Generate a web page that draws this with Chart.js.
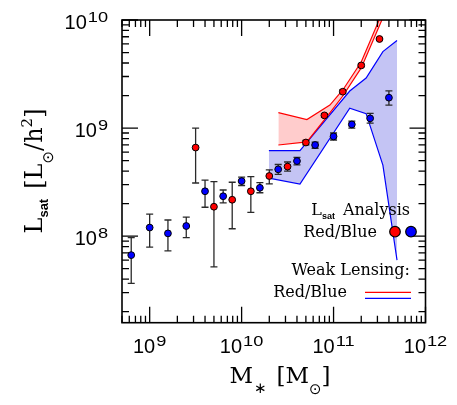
<!DOCTYPE html>
<html>
<head>
<meta charset="utf-8">
<script src="https://cdn.jsdelivr.net/npm/chart.js@4.4.1/dist/chart.umd.min.js"></script>
<style>
  html, body { margin: 0; padding: 0; background: #fff; }
  canvas { display: block; }
</style>
</head>
<body>
<canvas id="grafico" width="457" height="405"></canvas>
<script>
// Lsat analysis, red galaxies: stellar mass [Msun], Lsat and error bar ends [Lsun/h^2]
const redMass = [3.16e9, 5.0e9, 7.9e9, 1.26e10, 2.0e10, 3.16e10, 5.0e10, 7.95e10, 1.26e11, 2.0e11, 3.16e11];
const redLsat = [6.6e8, 1.87e8, 2.17e8, 2.6e8, 3.6e8, 4.4e8, 7.35e8, 1.31e9, 2.17e9, 3.8e9, 6.67e9];
const redHi = [1.0e9, 3.2e8, 3.15e8, 3.55e8, 4.1e8, 4.85e8, 7.7e8, 1.36e9, 2.25e9, 3.9e9, 6.8e9];
const redLo = [3.1e8, 5.2e7, 1.17e8, 1.66e8, 3.05e8, 4.0e8, 7.0e8, 1.26e9, 2.1e9, 3.7e9, 6.5e9];

// Lsat analysis, blue galaxies
const blueMass = [6.3e8, 1.0e9, 1.58e9, 2.5e9, 4.0e9, 6.3e9, 1.0e10, 1.58e10, 2.5e10, 4.0e10, 6.3e10, 1.0e11, 1.58e11, 2.5e11, 4.0e11];
const blueLsat = [6.67e7, 1.2e8, 1.06e8, 1.24e8, 2.6e8, 2.34e8, 3.23e8, 2.8e8, 4.15e8, 4.95e8, 6.97e8, 8.37e8, 1.08e9, 1.23e9, 1.91e9];
const blueHi = [9.7e7, 1.6e8, 1.41e8, 1.5e8, 3.3e8, 2.67e8, 3.52e8, 3.12e8, 4.6e8, 5.35e8, 7.4e8, 9.0e8, 1.16e9, 1.37e9, 2.21e9];
const blueLo = [3.65e7, 7.9e7, 7.3e7, 9.7e7, 1.85e8, 2.03e8, 2.94e8, 2.52e8, 3.72e8, 4.57e8, 6.5e8, 7.75e8, 1.0e9, 1.11e9, 1.63e9];

// weak lensing bands
const wlRedMass = [2.51e10, 5.13e10, 9.12e10, 1.26e11, 2.0e11, 3.16e11, 3.98e11];
const wlRedUpper = [1.39e9, 1.2e9, 1.63e9, 2.25e9, 4.08e9, 1.02e10, 1.62e10];
const wlRedLower = [6.97e8, 7.46e8, 1.38e9, 1.98e9, 3.6e9, 8.9e9, 1.41e10];
const wlBlueMass = [1.98e10, 4.31e10, 1.5e11, 2.26e11, 3.44e11, 4.9e11];
const wlBlueUpper = [6.17e8, 6.17e8, 2.2e9, 2.9e9, 5.1e9, 6.46e9];
const wlBlueLower = [3.44e8, 3.03e8, 1.53e9, 1.36e9, 4.54e8, 6.0e7];

// decade labels
const xTickExps = [9, 10, 11, 12];
const yTickExps = [8, 9, 10];

const SERIF = '"DejaVu Serif"';
const SANS = '"Liberation Sans"';

function pares(xs, ys) {
  return xs.map((x, i) => ({ x: x, y: ys[i] }));
}

function medirTexto(ctx, partes) {
  let w = 0;
  partes.forEach(p => {
    ctx.font = p.font;
    w += ctx.measureText(p.t).width * (p.sx || 1) + (p.gap || 0);
  });
  return w;
}

function escreverTexto(ctx, partes, x, y) {
  partes.forEach(p => {
    ctx.font = p.font;
    x += (p.gap || 0);
    ctx.save();
    ctx.translate(x, y + (p.dy || 0));
    ctx.scale(p.sx || 1, 1);
    ctx.fillText(p.t, 0, 0);
    ctx.restore();
    x += ctx.measureText(p.t).width * (p.sx || 1);
  });
}

function rotuloPotencia(e) {
  return [
    { t: '10', font: '20px ' + SANS },
    { t: String(e), font: '14px ' + SANS, dy: -7, sx: 1.3, gap: 1 }
  ];
}

function desenharErros(ctx, xs, lo, hi, sx, sy) {
  for (let i = 0; i < xs.length; i++) {
    const x = sx.getPixelForValue(xs[i]);
    const y1 = sy.getPixelForValue(hi[i]);
    const y2 = sy.getPixelForValue(lo[i]);
    ctx.beginPath();
    ctx.moveTo(x, y1); ctx.lineTo(x, y2);
    ctx.moveTo(x - 3.5, y1); ctx.lineTo(x + 3.5, y1);
    ctx.moveTo(x - 3.5, y2); ctx.lineTo(x + 3.5, y2);
    ctx.stroke();
  }
}

// error bars go under the dots but over the bands
const barrasErro = {
  id: 'barrasErro',
  beforeDatasetDraw(chart, args) {
    if (args.index !== 0) return;
    const ctx = chart.ctx;
    const a = chart.chartArea;
    ctx.save();
    ctx.beginPath();
    ctx.rect(a.left, a.top, a.right - a.left, a.bottom - a.top);
    ctx.clip();
    ctx.strokeStyle = '#2a2a2a';
    ctx.lineWidth = 1.3;
    desenharErros(ctx, redMass, redLo, redHi, chart.scales.x, chart.scales.y);
    desenharErros(ctx, blueMass, blueLo, blueHi, chart.scales.x, chart.scales.y);
    ctx.restore();
  }
};

// frame, inward ticks, labels and the hand-made legend
const moldura = {
  id: 'moldura',
  afterDraw(chart) {
    const ctx = chart.ctx;
    const sx = chart.scales.x;
    const sy = chart.scales.y;
    const { left, right, top, bottom } = chart.chartArea;

    ctx.save();
    ctx.strokeStyle = '#000';
    ctx.lineWidth = 1.3;
    ctx.beginPath();
    for (let e = 8; e <= 12; e++) {
      for (let k = 1; k <= 9; k++) {
        const v = k * Math.pow(10, e);
        if (v < sx.min || v > sx.max) continue;
        const x = sx.getPixelForValue(v);
        const len = k === 1 ? 16 : 7;
        ctx.moveTo(x, bottom); ctx.lineTo(x, bottom - len);
        ctx.moveTo(x, top); ctx.lineTo(x, top + len);
      }
    }
    for (let e = 7; e <= 10; e++) {
      for (let k = 1; k <= 9; k++) {
        const v = k * Math.pow(10, e);
        if (v < sy.min || v > sy.max) continue;
        const y = sy.getPixelForValue(v);
        const len = k === 1 ? 16 : 7;
        ctx.moveTo(left, y); ctx.lineTo(left + len, y);
        ctx.moveTo(right, y); ctx.lineTo(right - len, y);
      }
    }
    ctx.stroke();
    ctx.lineWidth = 1.6;
    ctx.strokeRect(left, top, right - left, bottom - top);

    // tick labels
    ctx.fillStyle = '#000';
    ctx.textBaseline = 'alphabetic';
    ctx.textAlign = 'left';
    xTickExps.forEach(e => {
      const partes = rotuloPotencia(e);
      const w = medirTexto(ctx, partes);
      escreverTexto(ctx, partes, sx.getPixelForValue(Math.pow(10, e)) - w / 2, bottom + 30.5);
    });
    yTickExps.forEach(e => {
      const partes = rotuloPotencia(e);
      const w = medirTexto(ctx, partes);
      escreverTexto(ctx, partes, left - 14 - w, sy.getPixelForValue(Math.pow(10, e)) + 9);
    });

    // x title: M_* [M_sun]
    const tituloX = [
      { t: 'M', font: '23px ' + SERIF },
      { t: '\u2217', font: '15px "DejaVu Sans"', dy: 10, gap: 1 },
      { t: '[M', font: '23px ' + SERIF, gap: 10 },
      { t: '\u2299', font: '15px "DejaVu Sans"', dy: 11 },
      { t: ']', font: '23px ' + SERIF }
    ];
    const wx = medirTexto(ctx, tituloX);
    escreverTexto(ctx, tituloX, 280 - wx / 2, 383);

    // y title: L_sat [L_sun/h^2]
    const tituloY = [
      { t: 'L', font: '24px ' + SERIF },
      { t: 'sat', font: 'bold 13px ' + SANS, dy: 6 },
      { t: '[L', font: '24px ' + SERIF, gap: 10 },
      { t: '\u2299', font: '15px "DejaVu Sans"', dy: 11 },
      { t: '/h', font: '24px ' + SERIF },
      { t: '2', font: '15px ' + SERIF, dy: -10 },
      { t: ']', font: '24px ' + SERIF }
    ];
    const wy = medirTexto(ctx, tituloY);
    ctx.save();
    ctx.translate(42, 171);
    ctx.rotate(-Math.PI / 2);
    escreverTexto(ctx, tituloY, -wy / 2, 0);
    ctx.restore();

    // legend
    const fLeg = '16px ' + SERIF;
    const leg1 = [
      { t: 'L', font: fLeg },
      { t: 'sat', font: 'bold 9px ' + SANS, dy: 4 },
      { t: 'Analysis', font: fLeg, gap: 8 }
    ];
    escreverTexto(ctx, leg1, 410 - medirTexto(ctx, leg1), 215);
    const leg2 = [{ t: 'Red/Blue', font: fLeg }];
    escreverTexto(ctx, leg2, 377 - medirTexto(ctx, leg2), 237);
    const leg3 = [{ t: 'Weak Lensing:', font: fLeg }];
    escreverTexto(ctx, leg3, 410 - medirTexto(ctx, leg3), 275);
    escreverTexto(ctx, leg2, 347 - medirTexto(ctx, leg2), 297);

    ctx.lineWidth = 1.2;
    [['#ff0000', 395], ['#0000ff', 411]].forEach(([cor, cx]) => {
      ctx.beginPath();
      ctx.arc(cx, 231.7, 5.3, 0, Math.PI * 2);
      ctx.fillStyle = cor;
      ctx.fill();
      ctx.strokeStyle = '#000';
      ctx.stroke();
    });
    ctx.lineWidth = 1.2;
    ctx.strokeStyle = '#ff0000';
    ctx.beginPath(); ctx.moveTo(365, 292.3); ctx.lineTo(411, 292.3); ctx.stroke();
    ctx.strokeStyle = '#0000ff';
    ctx.beginPath(); ctx.moveTo(365, 298.3); ctx.lineTo(411, 298.3); ctx.stroke();
    ctx.restore();
  }
};

const ctx = document.getElementById('grafico').getContext('2d');
window.grafico = new Chart(ctx, {
  type: 'scatter',
  data: {
    datasets: [
      {
        label: 'Red',
        data: pares(redMass, redLsat),
        backgroundColor: '#ff0000',
        borderColor: '#000',
        borderWidth: 1,
        pointRadius: 3.4,
        order: 2
      },
      {
        label: 'Blue',
        data: pares(blueMass, blueLsat),
        backgroundColor: '#0000ff',
        borderColor: '#000',
        borderWidth: 1,
        pointRadius: 3.4,
        order: 1
      },
      {
        type: 'line',
        label: 'WL red upper',
        data: pares(wlRedMass, wlRedUpper),
        borderColor: '#ff0000',
        borderWidth: 1.2,
        backgroundColor: 'rgba(255,0,0,0.2)',
        pointRadius: 0,
        fill: '+1',
        order: 3
      },
      {
        type: 'line',
        label: 'WL red lower',
        data: pares(wlRedMass, wlRedLower),
        borderColor: '#ff0000',
        borderWidth: 1.2,
        pointRadius: 0,
        fill: false,
        order: 3
      },
      {
        type: 'line',
        label: 'WL blue upper',
        data: pares(wlBlueMass, wlBlueUpper),
        borderColor: '#0000ff',
        borderWidth: 1.2,
        backgroundColor: 'rgba(20,20,210,0.25)',
        pointRadius: 0,
        fill: '+1',
        order: 3
      },
      {
        type: 'line',
        label: 'WL blue lower',
        data: pares(wlBlueMass, wlBlueLower),
        borderColor: '#0000ff',
        borderWidth: 1.2,
        pointRadius: 0,
        fill: false,
        order: 3
      }
    ]
  },
  options: {
    responsive: false,
    animation: false,
    layout: { padding: { left: 122, top: 20, right: 31.5, bottom: 82.3 } },
    scales: {
      x: { type: 'logarithmic', min: 5e8, max: 1e12, display: false },
      y: { type: 'logarithmic', min: 1.58e7, max: 1e10, display: false }
    },
    plugins: {
      legend: { display: false },
      tooltip: { enabled: false }
    }
  },
  plugins: [barrasErro, moldura]
});
</script>
</body>
</html>
